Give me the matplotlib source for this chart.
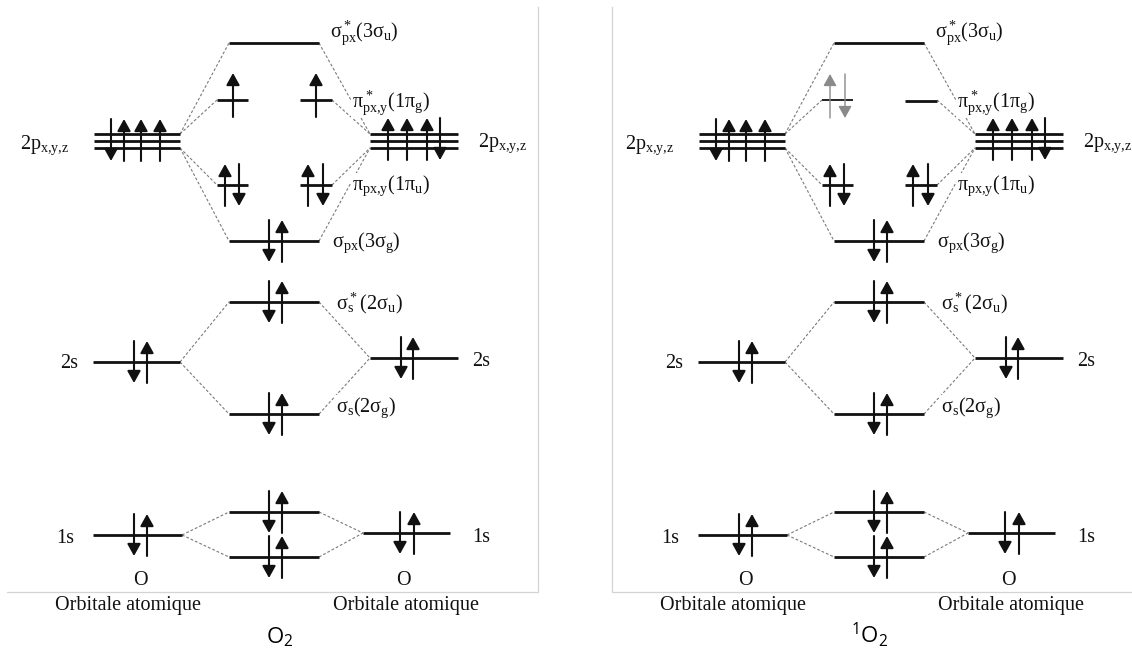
import matplotlib
matplotlib.use('Agg')
import matplotlib.pyplot as plt

plt.rcParams['font.family'] = ['Liberation Serif', 'DejaVu Serif']
plt.rcParams['mathtext.default'] = 'regular'

# colonnes (x en pixels) : OA gauche, OM, OA droite
COL_AO_G = (94, 180)
COL_MO = (229, 319)
COL_PI_G = (217, 248)
COL_PI_D = (300, 332)
COL_AO_D = (370, 458)
DECALAGE = 605  # position du second diagramme (1O2)

# niveaux d'energie (y en pixels, vers le bas)
Y_2P = [134, 141, 148]
Y_2S = (362, 358)          # gauche, droite
Y_1S = (535, 533)
Y_SIGMA_1S = (557, 512)    # liant, antiliant
Y_SIGMA_2S = (414, 302)
Y_SIGMA_2P = (241, 43)
Y_PI = (185, 100)          # pi, pi*

# electrons : (x, spin)
E_2P_G = [(111, 'd'), (124, 'u'), (141, 'u'), (160, 'u')]
E_2P_D = [(388, 'u'), (407, 'u'), (427, 'u'), (440, 'd')]
E_AO_G = [(134, 'd'), (147, 'u')]
E_AO_D = [(401, 'd'), (413, 'u')]
E_MO = [(269, 'd'), (282, 'u')]
E_PI_G = [(225, 'u'), (239, 'd')]
E_PI_D = [(308, 'u'), (323, 'd')]
E_PIS_TRIPLET = [(233, 'u'), (316, 'u')]
E_PIS_SINGULET = [(225, 'u'), (240, 'd')]

# etiquettes des OM : (texte, x, y de la ligne de base)
ETIQ_OM = [
    (r'$σ^*_{px}(3σ_u)$', 330, 37),
    (r'$π^*_{px{,}y}(1π_g)$', 352, 107),
    (r'$π_{px{,}y}(1π_u)$', 352, 190),
    (r'$σ_{px}(3σ_g)$', 332, 247),
    (r'$σ_s\!\!{}^*(2σ_u)$', 336, 309),
    (r'$σ_s(2σ_g)$', 336, 412),
]
LABEL_2P = r'$2p_{x{,}y{,}z}$'
TITRES = [r'$\mathregular{O_2}$', r'$\mathregular{^1O_2}$']

NOIR = '#111111'
GRIS = '#7a7a7a'


def niveau(ax, x, y, lw=2.0):
    ax.plot([x[0], x[1]], [y, y], color=NOIR, lw=lw, solid_capstyle='butt', zorder=3)


def tirets(ax, p1, p2):
    ax.plot([p1[0], p2[0]], [p1[1], p2[1]], color=GRIS, lw=0.8, dashes=(2.5, 1.8), zorder=1)


def electron(ax, x, y, spin, h=21, c=NOIR, lw=1.5):
    if spin == 'u':
        a, b = y + h, y - h
    else:
        a, b = y - h, y + h
    ax.annotate('', xy=(x, b), xytext=(x, a),
                arrowprops=dict(arrowstyle='-|>,head_length=0.45,head_width=0.25',
                                color=c, lw=lw, mutation_scale=16,
                                shrinkA=0, shrinkB=0), zorder=4)


def decale(col, dx):
    return (col[0] + dx, col[1] + dx)


def diagramme(ax, dx, singulet=False):
    ag = decale(COL_AO_G, dx)
    ad = decale(COL_AO_D, dx)
    mo = decale(COL_MO, dx)
    pg = decale(COL_PI_G, dx)
    pd = decale(COL_PI_D, dx)

    # 2p atomiques
    for y in Y_2P:
        niveau(ax, ag, y)
        niveau(ax, ad, y)
    for x, s in E_2P_G:
        electron(ax, x + dx, 140, s)
    for x, s in E_2P_D:
        electron(ax, x + dx, 139, s)

    # sigma 2p
    niveau(ax, mo, Y_SIGMA_2P[1])
    niveau(ax, mo, Y_SIGMA_2P[0])
    for x, s in E_MO:
        electron(ax, x + dx, Y_SIGMA_2P[0], s)

    # pi
    niveau(ax, pg, Y_PI[0])
    niveau(ax, pd, Y_PI[0])
    for x, s in E_PI_G + E_PI_D:
        electron(ax, x + dx, Y_PI[0], s)

    # pi*
    if singulet:
        niveau(ax, pg, Y_PI[1], lw=1.3)
        niveau(ax, pd, Y_PI[1] + 1)
        for x, s in E_PIS_SINGULET:
            electron(ax, x + dx, Y_PI[1] - 4, s, h=22, c='#8a8a8a', lw=1.0)
    else:
        niveau(ax, pg, Y_PI[1])
        niveau(ax, pd, Y_PI[1])
        for x, s in E_PIS_TRIPLET:
            electron(ax, x + dx, Y_PI[1] - 5, s, h=22)

    # correlations 2p
    tirets(ax, (ag[1], Y_2P[0]), (mo[0], Y_SIGMA_2P[1]))
    tirets(ax, (ag[1], Y_2P[0]), (pg[0], Y_PI[1]))
    tirets(ax, (ag[1], Y_2P[2]), (pg[0], Y_PI[0]))
    tirets(ax, (ag[1], Y_2P[2]), (mo[0], Y_SIGMA_2P[0]))
    tirets(ax, (mo[1], Y_SIGMA_2P[1]), (ad[0], Y_2P[0]))
    tirets(ax, (pd[1], Y_PI[1]), (ad[0], Y_2P[0]))
    tirets(ax, (pd[1], Y_PI[0]), (ad[0], Y_2P[2]))
    tirets(ax, (mo[1], Y_SIGMA_2P[0]), (ad[0], Y_2P[2]))

    # 2s
    niveau(ax, (ag[0] - 1, ag[1]), Y_2S[0])
    niveau(ax, ad, Y_2S[1])
    niveau(ax, mo, Y_SIGMA_2S[0])
    niveau(ax, mo, Y_SIGMA_2S[1])
    for x, s in E_AO_G:
        electron(ax, x + dx, Y_2S[0], s)
    for x, s in E_AO_D:
        electron(ax, x + dx, Y_2S[1], s)
    for y in Y_SIGMA_2S:
        for x, s in E_MO:
            electron(ax, x + dx, y, s)
    for y in Y_SIGMA_2S:
        tirets(ax, (ag[1], Y_2S[0]), (mo[0], y))
        tirets(ax, (mo[1], y), (ad[0], Y_2S[1]))

    # 1s
    g1 = (93 + dx, 182 + dx)
    d1 = (363 + dx, 450 + dx)
    niveau(ax, g1, Y_1S[0])
    niveau(ax, d1, Y_1S[1])
    niveau(ax, mo, Y_SIGMA_1S[0])
    niveau(ax, mo, Y_SIGMA_1S[1])
    for x, s in E_AO_G:
        electron(ax, x + dx, Y_1S[0], s)
    for x, s in [(400, 'd'), (414, 'u')]:
        electron(ax, x + dx, Y_1S[1], s)
    for y in Y_SIGMA_1S:
        for x, s in E_MO:
            electron(ax, x + dx, y, s)
        tirets(ax, (g1[1], Y_1S[0]), (mo[0], y))
        tirets(ax, (mo[1], y), (d1[0], Y_1S[1]))

    # textes
    fs = 14.5
    for t, x, y in ETIQ_OM:
        ax.text(x + dx, y, t, fontsize=fs, color=NOIR, ha='left', va='baseline',
                bbox=dict(fc='white', ec='none', pad=0.5), zorder=2)
    ax.text(69 + dx, 149, LABEL_2P, fontsize=fs, color=NOIR, ha='right', va='baseline')
    ax.text(478 + dx, 147, LABEL_2P, fontsize=fs, color=NOIR, ha='left', va='baseline')
    ax.text(78 + dx, 368, '2s', fontsize=fs, color=NOIR, ha='right', va='baseline')
    ax.text(472 + dx, 366, '2s', fontsize=fs, color=NOIR, ha='left', va='baseline')
    ax.text(74 + dx, 543, '1s', fontsize=fs, color=NOIR, ha='right', va='baseline')
    ax.text(472 + dx, 542, '1s', fontsize=fs, color=NOIR, ha='left', va='baseline')
    ax.text(140 + dx, 585, 'O', fontsize=fs, color=NOIR, ha='center', va='baseline')
    ax.text(403 + dx, 585, 'O', fontsize=fs, color=NOIR, ha='center', va='baseline')
    ax.text(128 + dx, 610, 'Orbitale atomique', fontsize=fs, color=NOIR, ha='center', va='baseline')
    ax.text(406 + dx, 610, 'Orbitale atomique', fontsize=fs, color=NOIR, ha='center', va='baseline')


fig = plt.figure(figsize=(11.32, 6.5), dpi=100)
ax = fig.add_axes([0, 0, 1, 1])
ax.set_xlim(0, 1132)
ax.set_ylim(650, 0)
ax.axis('off')

# cadres gris clair
cadre = '#d4d4d4'
ax.plot([7, 538, 538], [592, 592, 7], color=cadre, lw=0.9)
ax.plot([612, 612, 1132], [7, 592, 592], color=cadre, lw=0.9)

diagramme(ax, 0)
diagramme(ax, DECALAGE, singulet=True)

ax.text(280, 643, TITRES[0], fontsize=16, family=['Open Sans', 'DejaVu Sans'],
        ha='center', va='baseline', color='black')
ax.text(870, 643, TITRES[1], fontsize=16, family=['Open Sans', 'DejaVu Sans'],
        ha='center', va='baseline', color='black')

fig.savefig('out.png', dpi=100)
